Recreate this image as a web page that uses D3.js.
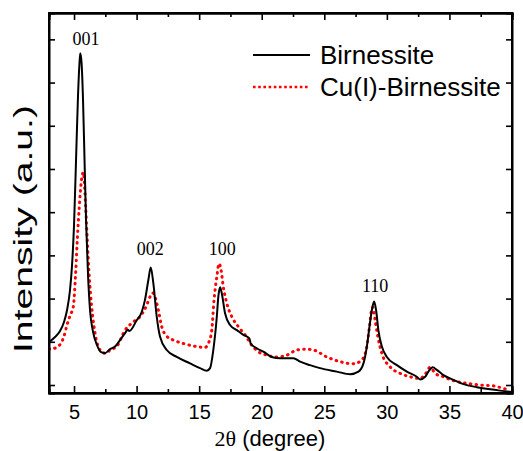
<!DOCTYPE html>
<html>
<head>
<meta charset="utf-8">
<script src="https://cdn.jsdelivr.net/npm/d3@7"></script>
<style>
  html, body { margin: 0; padding: 0; background: #fff; }
  svg { display: block; }
</style>
</head>
<body>
<svg id="chart" width="523" height="451"></svg>
<script>
// XRD patterns: 2θ (degree) vs. intensity (arbitrary units)
const birnessiteX = [3.00,3.48,3.88,4.20,4.44,4.68,4.84,5.00,5.16,5.32,5.44,5.50,5.60,5.72,5.84,5.96,6.12,6.28,6.52,6.84,7.16,7.48,7.88,8.28,8.68,9.08,9.30,9.42,10.01,10.41,10.67,10.94,11.13,11.34,11.61,11.87,12.41,13.21,14.27,15.07,15.61,15.87,16.13,16.41,16.53,16.67,16.81,17.07,17.47,18.01,18.53,19.01,19.12,19.60,20.13,20.80,21.47,22.53,23.07,23.86,24.66,26.00,27.06,27.73,28.13,28.40,28.61,28.80,28.98,29.14,29.32,29.60,30.00,30.80,31.60,32.39,32.66,33.06,33.32,33.67,33.99,34.52,35.32,36.12,37.19,38.25,39.05,40.00];
const birnessiteY = [0.99,1.11,1.25,1.46,1.73,2.20,2.77,3.70,5.20,6.71,7.47,7.68,7.47,6.59,5.20,3.82,2.54,1.73,1.23,0.92,0.76,0.74,0.83,0.89,1.04,1.20,1.28,1.25,1.50,1.69,1.97,2.43,2.72,2.35,1.58,1.12,0.81,0.65,0.50,0.39,0.33,0.39,0.81,1.58,2.04,2.26,2.12,1.66,1.39,1.27,1.16,1.08,0.96,0.85,0.77,0.65,0.62,0.62,0.54,0.46,0.39,0.31,0.25,0.31,0.50,0.89,1.35,1.73,1.93,1.73,1.27,0.89,0.65,0.46,0.31,0.19,0.13,0.19,0.31,0.41,0.35,0.23,0.12,0.02,-0.05,-0.10,-0.13,-0.16];

const cuBirnessiteX = [3.00,3.32,3.64,3.96,4.20,4.44,4.70,4.94,5.13,5.26,5.42,5.58,5.74,5.93,6.06,6.20,6.41,6.68,7.08,7.56,7.88,8.41,9.08,9.74,10.27,10.81,11.07,11.29,11.47,11.74,12.01,12.41,12.94,13.74,14.81,15.47,15.73,16.01,16.19,16.41,16.59,16.75,16.93,17.21,17.61,18.13,18.67,19.20,19.73,20.40,21.20,22.00,22.80,23.47,24.13,25.20,26.26,27.33,28.00,28.40,28.61,28.80,28.88,29.06,29.28,29.60,30.26,31.06,31.86,32.66,33.06,33.46,33.86,34.52,35.32,36.39,37.46,38.52,39.32,39.85];
const cuBirnessiteY = [0.83,0.84,0.88,0.97,1.13,1.39,1.62,1.81,2.59,3.35,4.12,4.70,4.92,4.12,3.35,2.59,1.81,1.20,0.81,0.73,0.81,0.89,1.27,1.46,1.58,1.85,2.04,2.13,2.04,1.73,1.35,1.13,1.04,0.96,0.89,0.87,0.96,1.27,1.97,2.50,2.81,2.66,2.27,1.89,1.58,1.35,1.16,0.92,0.77,0.69,0.65,0.69,0.81,0.83,0.81,0.65,0.54,0.49,0.58,0.89,1.35,1.77,1.80,1.50,1.12,0.73,0.42,0.27,0.19,0.15,0.25,0.41,0.27,0.19,0.10,0.04,0.00,-0.02,-0.08,-0.12];

// reflection labels
const peakLabels = ["001", "002", "100", "110"];
const peakLabelX = [5.96, 11.1, 16.85, 29.06];
const peakLabelY = [7.86, 3.0, 3.0, 2.16];

const xTickValues = [5, 10, 15, 20, 25, 30, 35, 40];
const xMinorValues = [7.5, 12.5, 17.5, 22.5, 27.5, 32.5, 37.5];
const yTickValues = [0, 1, 2, 3, 4, 5, 6, 7, 8];

const seriesNames = ["Birnessite", "Cu(I)-Birnessite"];

const svg = d3.select("#chart");
const margin = { left: 49, right: 11, top: 13, bottom: 58 };
const W = 523, H = 451;

const x = d3.scaleLinear().domain([3, 40]).range([margin.left, W - margin.right]);
const y = d3.scaleLinear().domain([-0.185, 8.61]).range([H - margin.bottom, margin.top]);

svg.append("defs").append("clipPath").attr("id", "plotClip")
  .append("rect")
  .attr("x", margin.left).attr("y", margin.top)
  .attr("width", W - margin.left - margin.right)
  .attr("height", H - margin.top - margin.bottom);

const line = d3.line()
  .x(d => x(d[0]))
  .y(d => y(d[1]))
  .curve(d3.curveMonotoneX);

const plot = svg.append("g").attr("clip-path", "url(#plotClip)");

// Cu(I)-Birnessite: red round dots
plot.append("path")
  .datum(d3.zip(cuBirnessiteX, cuBirnessiteY))
  .attr("d", line)
  .attr("fill", "none")
  .attr("stroke", "#ff0000")
  .attr("stroke-width", 3)
  .attr("stroke-linecap", "round")
  .attr("stroke-dasharray", "0.6 5.2");

// Birnessite: solid black
plot.append("path")
  .datum(d3.zip(birnessiteX, birnessiteY))
  .attr("d", line)
  .attr("fill", "none")
  .attr("stroke", "#000")
  .attr("stroke-width", 2);

// axes with inward ticks on all four sides
const axisFont = "'Liberation Sans', Arial, sans-serif";
const axisBottomG = svg.append("g").attr("transform", `translate(0,${H - margin.bottom})`);
axisBottomG.call(d3.axisBottom(x).tickValues(xTickValues).tickSize(-7).tickPadding(12).tickFormat(d3.format("d")));
axisBottomG.append("g").call(d3.axisBottom(x).tickValues(xMinorValues).tickSize(-4).tickFormat(""));

const axisTopG = svg.append("g").attr("transform", `translate(0,${margin.top})`);
axisTopG.call(d3.axisTop(x).tickValues(xTickValues).tickSize(-7).tickFormat(""));
axisTopG.append("g").call(d3.axisTop(x).tickValues(xMinorValues).tickSize(-4).tickFormat(""));

const axisLeftG = svg.append("g").attr("transform", `translate(${margin.left},0)`);
axisLeftG.call(d3.axisLeft(y).tickValues(yTickValues).tickSize(-6).tickFormat(""));

const axisRightG = svg.append("g").attr("transform", `translate(${W - margin.right},0)`);
axisRightG.call(d3.axisRight(y).tickValues(yTickValues).tickSize(-6).tickFormat(""));

svg.selectAll(".domain").attr("stroke", "#000").attr("stroke-width", 2);
svg.selectAll(".tick line").attr("stroke", "#000").attr("stroke-width", 1.6);
axisBottomG.selectAll(".tick text")
  .attr("font-family", axisFont)
  .attr("font-size", 20)
  .attr("fill", "#000");

// frame
svg.append("rect")
  .attr("x", margin.left).attr("y", margin.top)
  .attr("width", W - margin.left - margin.right)
  .attr("height", H - margin.top - margin.bottom)
  .attr("fill", "none").attr("stroke", "#000").attr("stroke-width", 2);

// reflection labels
svg.append("g").selectAll("text")
  .data(peakLabels)
  .join("text")
  .attr("x", (d, i) => x(peakLabelX[i]))
  .attr("y", (d, i) => y(peakLabelY[i]))
  .attr("text-anchor", "middle")
  .attr("font-family", "'Liberation Serif', 'Times New Roman', serif")
  .attr("font-size", 18)
  .text(d => d);

// axis titles
const xTitle = svg.append("text")
  .attr("x", 270)
  .attr("y", 446)
  .attr("text-anchor", "middle")
  .attr("font-family", axisFont)
  .attr("font-size", 22);
xTitle.append("tspan").attr("font-family", "'Liberation Serif', serif").text("2θ");
xTitle.append("tspan").text(" (degree)");

svg.append("text")
  .attr("transform", `translate(32,229) rotate(-90)`)
  .attr("text-anchor", "middle")
  .attr("font-family", axisFont)
  .attr("font-size", 25)
  .attr("textLength", 248)
  .attr("lengthAdjust", "spacingAndGlyphs")
  .text("Intensity (a.u.)");

// legend
const legend = svg.append("g");
const legendY = [55, 87];
legend.selectAll("line")
  .data(seriesNames)
  .join("line")
  .attr("x1", 253).attr("x2", 310)
  .attr("y1", (d, i) => legendY[i]).attr("y2", (d, i) => legendY[i])
  .attr("stroke", (d, i) => i === 0 ? "#000" : "#ff0000")
  .attr("stroke-width", (d, i) => i === 0 ? 2 : 2.6)
  .attr("stroke-dasharray", (d, i) => i === 0 ? null : "2.6 2.6");
legend.selectAll("text")
  .data(seriesNames)
  .join("text")
  .attr("x", 320)
  .attr("y", (d, i) => legendY[i] + 9)
  .attr("font-family", axisFont)
  .attr("font-size", 26)
  .text(d => d);
</script>
</body>
</html>
